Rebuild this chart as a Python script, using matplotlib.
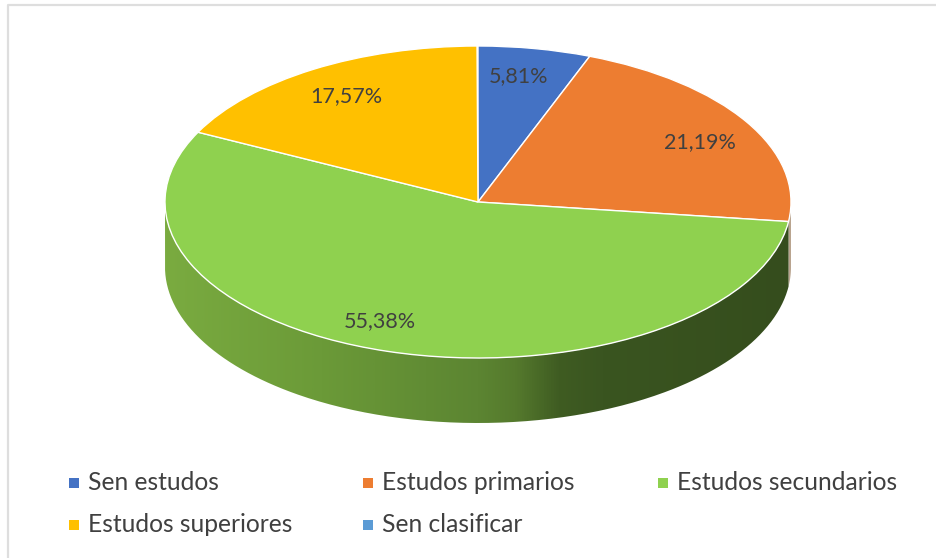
import numpy as np
import matplotlib
matplotlib.use("Agg")
import matplotlib.pyplot as plt
from matplotlib.colors import LinearSegmentedColormap
from matplotlib.patches import PathPatch, Rectangle
from matplotlib.path import Path
from matplotlib.lines import Line2D

categories = ["Sen estudos", "Estudos primarios", "Estudos secundarios", "Estudos superiores", "Sen clasificar"]
values = [5.81, 21.19, 55.38, 17.57, 0.05]
labels = ["5,81%", "21,19%", "55,38%", "17,57%", ""]
colors = ["#4472C4", "#ED7D31", "#8FD14F", "#FFC000", "#5B9BD5"]

W, H = 936, 558
plt.rcParams["font.family"] = ["Lato", "DejaVu Sans"]
fig = plt.figure(figsize=(W / 100, H / 100), dpi=100, facecolor="white")

# plot frame (top and left edges show)
fig.add_artist(Line2D([8 / W, 8 / W, 1], [0, 1 - 5 / H, 1 - 5 / H], color="#dedede", lw=1.6,
                      transform=fig.transFigure))

cx, cy, rx, ry, depth = 478, 202, 313, 156, 65
ax = fig.add_axes([(cx - rx) / W, 1 - (cy + ry + depth) / H, 2 * rx / W, (2 * ry + depth) / H])
d = depth / ry

wedges, _ = ax.pie(values, colors=colors, startangle=90, counterclock=False, radius=1,
                   wedgeprops=dict(edgecolor="white", linewidth=1.0, zorder=3))
wedges[-1].set_visible(False)


def angle_of(frac_sum):
    return np.pi / 2 - 2 * np.pi * frac_sum / sum(values)


def wall(a0, a1):
    t = np.linspace(a0, a1, 300)
    x, y = np.cos(t), np.sin(t)
    xs = np.r_[x, x[::-1], x[0]]
    ys = np.r_[y, y[::-1] - d, y[0]]
    return Path(np.c_[xs, ys])


# side wall: green part with a gradient from the left to the right
a_green_start = angle_of(sum(values[:2]))
green = LinearSegmentedColormap.from_list("g", [
    (0.00, "#7AAB40"), (0.25, "#6B9A38"), (0.50, "#5C8532"), (0.56, "#557A2D"),
    (0.63, "#3F5C22"), (0.70, "#3A5520"), (1.00, "#354D1D")])
grad = np.linspace(0, 1, 512).reshape(1, -1)
im = ax.imshow(grad, cmap=green, extent=(-1, 1, -1 - d, 1), aspect="auto", zorder=1)
clip = PathPatch(wall(a_green_start, -np.pi), transform=ax.transData, fc="none", ec="none")
ax.add_patch(clip)
im.set_clip_path(clip)

# orange sliver at the right side
ax.add_patch(PathPatch(wall(0, a_green_start), fc="#B9A48F", ec="none", zorder=0.5))

ax.set_aspect("auto")
ax.set_xlim(-1, 1)
ax.set_ylim(-1 - d, 1)

# data labels
label_px = [(519, 76), (700, 142), (380, 321), (346, 96)]
for txt, (px, py) in zip(labels, label_px):
    ax.text((px - cx) / rx, (cy - py) / ry, txt, ha="center", va="center",
            fontsize=15.5, color="#404040", zorder=5)

# legend
leg_px = [(74, 483), (368, 483), (663, 483), (74, 525), (368, 525)]
for name, col, (px, py) in zip(categories, colors, leg_px):
    fig.add_artist(Rectangle(((px - 5) / W, 1 - (py + 5) / H), 10 / W, 10 / H, fc=col, ec="none",
                             transform=fig.transFigure))
    fig.text((px + 14) / W, 1 - py / H, name, ha="left", va="center", fontsize=17.7, color="#404040")

fig.savefig("out.png", dpi=100, facecolor="white")
